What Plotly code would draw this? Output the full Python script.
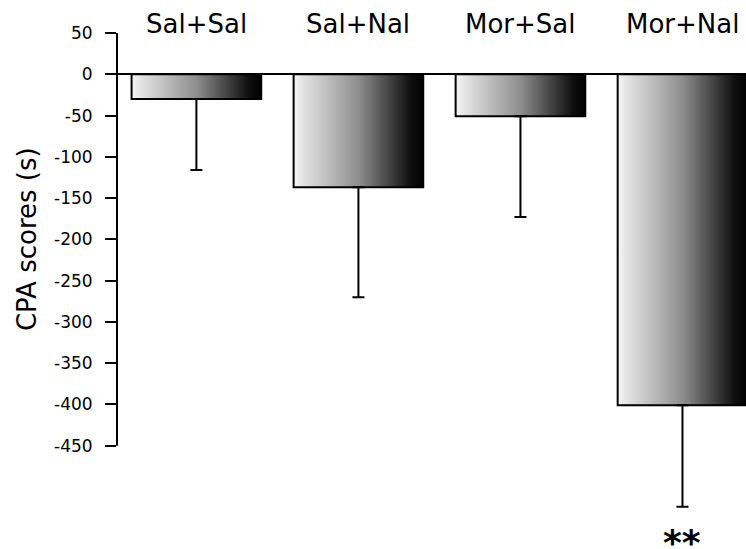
import plotly.graph_objects as go

# Conditioned place aversion scores per treatment group
groups = ["Sal+Sal", "Sal+Nal", "Mor+Sal", "Mor+Nal"]
cpa_scores = [-30, -137, -51, -401]
sem = [86, 133, 122, 123]

y_tickvals = [50, 0, -50, -100, -150, -200, -250, -300, -350, -400, -450]
y_ticktext = ["50", "0", "-50", "-100", "-150", "-200", "-250", "-300", "-350", "-400", "-450"]

FONT = "DejaVu Sans"
BAR_W = 0.8
gradient = [[0.0, "#f6f6f6"], [0.08, "#e2e2e2"], [0.5, "#8e8e8e"],
            [0.9, "#101010"], [1.0, "#000000"]]

fig = go.Figure()

# Bars as closed shapes so they can carry a left-to-right gradient fill
for i, v in enumerate(cpa_scores):
    x0, x1 = i - BAR_W / 2, i + BAR_W / 2
    fig.add_trace(go.Scatter(
        x=[x0, x1, x1, x0, x0], y=[0, 0, v, v, 0],
        mode="lines", fill="toself",
        fillgradient=dict(type="horizontal", colorscale=gradient),
        line=dict(color="black", width=2),
        hoverinfo="skip", showlegend=False,
    ))

# Downward error bars
fig.add_trace(go.Scatter(
    x=list(range(len(groups))), y=cpa_scores, mode="markers",
    marker=dict(size=1, opacity=0),
    error_y=dict(type="data", symmetric=False, array=[0] * len(groups),
                 arrayminus=sem, color="black", thickness=2, width=6),
    hoverinfo="skip", showlegend=False,
))

# Y axis line from 50 down to -450 only
fig.add_shape(type="line", xref="paper", yref="y", x0=0, x1=0, y0=-450, y1=50,
              line=dict(color="black", width=2))

# Group names above the bars
for i, g in enumerate(groups):
    fig.add_annotation(text=g, xref="x", yref="paper", x=i, y=1, yshift=9,
                       xanchor="center", yanchor="middle", showarrow=False,
                       font=dict(family=FONT, size=26, color="black"))

fig.add_annotation(text="CPA scores (s)", textangle=-90, xref="paper", yref="paper",
                   x=-0.142, y=0.60, xanchor="center", yanchor="middle",
                   showarrow=False, font=dict(family=FONT, size=26, color="black"))

# Significance marker below the Mor+Nal error bar
fig.add_annotation(text="**", xref="x", yref="y", x=3, y=-567,
                   xanchor="center", yanchor="middle", showarrow=False,
                   font=dict(family=FONT, size=36, color="black", weight="bold"))

fig.update_layout(
    width=746, height=549,
    margin=dict(l=117, r=0, t=33, b=0),
    plot_bgcolor="white", paper_bgcolor="white",
    font=dict(family=FONT, color="black"),
    xaxis=dict(range=[-0.49, 3.392], showticklabels=False, ticks="",
               showline=False, showgrid=False, zeroline=False),
    yaxis=dict(range=[-575.1, 50], tickvals=y_tickvals, ticktext=y_ticktext,
               ticks="outside", ticklen=11, tickwidth=2, tickcolor="black",
               showline=False, showgrid=False, zeroline=True, zerolinecolor="black",
               zerolinewidth=2, ticklabelstandoff=9,
               tickfont=dict(family=FONT, size=17, color="black")),
)

fig.write_html("out.html")
